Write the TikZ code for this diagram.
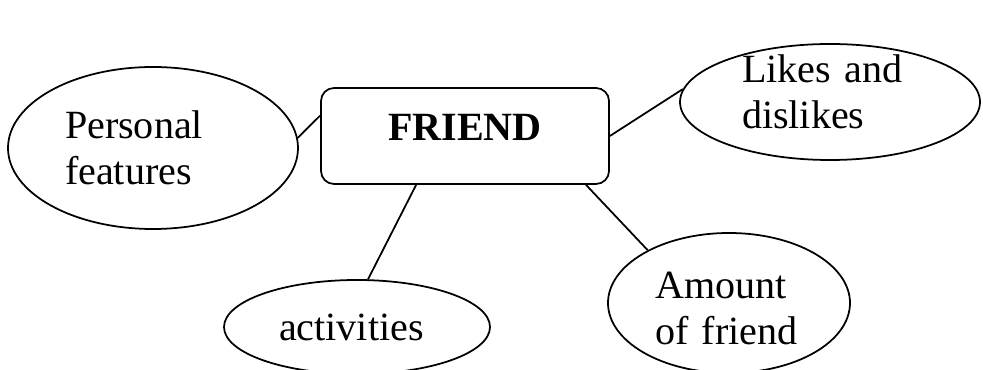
\documentclass[tikz,border=0pt]{standalone}
\usepackage{fontspec}
\setmainfont{Liberation Serif}
\usetikzlibrary{shapes.geometric}

\begin{document}
\begin{tikzpicture}[line width=1pt]
  \tikzset{T/.style={font=\fontsize{22.8}{26.2}\selectfont}}
  \tikzset{E/.style={ellipse, draw=black, T, inner sep=0pt, align=left}}
  \tikzset{C/.style={rectangle, rounded corners=.26cm, draw=black, T}}
  \useasboundingbox (0,0) rectangle (19.66,-7.4);

  \node [C, minimum width=5.76cm, minimum height=1.92cm,
         text height=.56cm, text depth=.36cm] (nfriend) at (9.3,-2.72) {\textbf{FRIEND}};
  \node [E, minimum width=5.8cm,  minimum height=3.24cm, text width=3.52cm] (npers)   at (3.06,-2.96)  {Personal\\features};
  \node [E, minimum width=6.0cm,  minimum height=2.32cm, text width=3.52cm,
         text height=.16cm] (nlikes)  at (16.6,-2.04)  {Likes and\\dislikes};
  \node [E, minimum width=5.32cm, minimum height=1.88cm, text width=3.12cm] (nact)    at (7.14,-6.54)  {activities};
  \node [E, minimum width=4.84cm, minimum height=2.8cm,  text width=2.95cm,
         text height=.75cm] (namount) at (14.58,-6.06) {Amount\\of friend};

  \foreach \from/\to in {nfriend.172/npers.4, nfriend.east/nlikes.175,
                         nfriend.225/nact.77, nfriend.-22/namount.147}
    \draw (\from) -- (\to);
\end{tikzpicture}
\end{document}
